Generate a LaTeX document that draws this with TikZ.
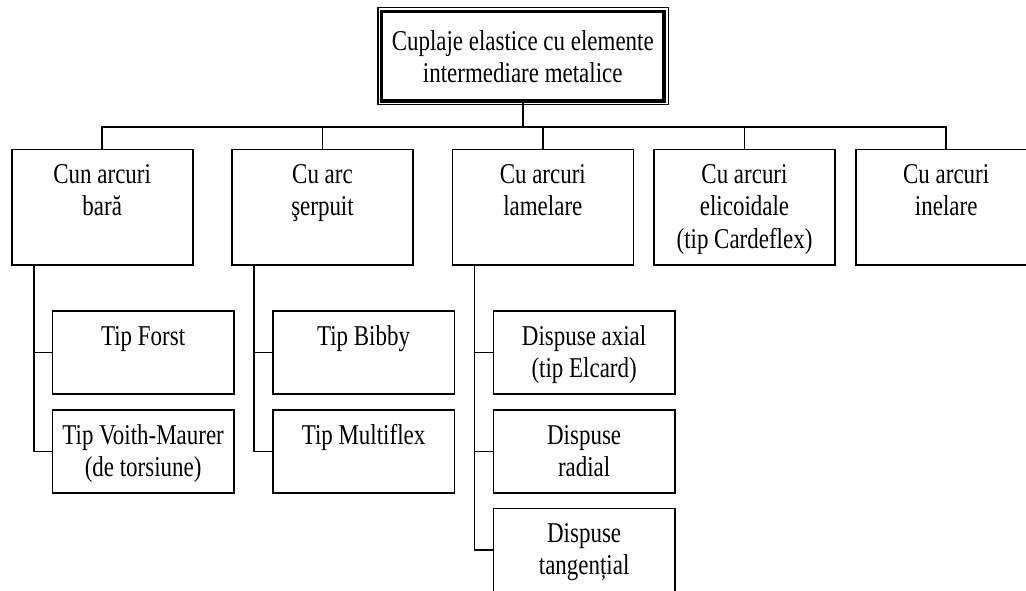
\documentclass[tikz,border=0pt]{standalone}
\usepackage{fontspec}
\setmainfont{Liberation Serif}[FakeStretch=0.8]
\begin{document}
\begin{tikzpicture}[x=1pt,y=-1pt,
  line width=1.6pt,
  every node/.style={outer sep=0pt},
  headbox/.style={draw, rectangle, line width=3.4pt, minimum width=282.1pt, minimum height=89.3pt, inner sep=0pt},
  lvlbox/.style={draw, rectangle, minimum width=181pt, minimum height=115.7pt, inner sep=0pt},
  subbox/.style={draw, rectangle, minimum width=181.7pt, minimum height=83pt, inner sep=0pt},
  lbl/.style={anchor=north, inner sep=0pt, align=center, font=\fontsize{28.7pt}{32.5pt}\selectfont}
]
\useasboundingbox (0,0) rectangle (1026,590);
\fill[white] (0,0) rectangle (1026,590);
\clip (0,0) rectangle (1026,590);

% head box with thin outer frame
\node[headbox] (top) at (522.75,56.35) {};
\draw ([shift={(-3.9,-4.4)}]top.north west) rectangle ([shift={(4.5,3.3)}]top.south east);
\node[lbl] (toptxt) at ([shift={(0,15.55)}]top.north) {\strut Cuplaje elastice cu elemente\\intermediare metalice};

% first level
\node[lvlbox] (b1) at (102.2,207.15) {};
\node[lvlbox] (b2) at (322.5,207.15) {};
\node[lvlbox] (b3) at (542.8,207.15) {};
\node[lvlbox] (b4) at (744.5,207.15) {};
\node[lvlbox] (b5) at (946.2,207.15) {};
\node[lbl] (t1) at ([shift={(0,11.25)}]b1.north) {\strut Cun arcuri\\bară};
\node[lbl] (t2) at ([shift={(0,11.25)}]b2.north) {\strut Cu arc\\şerpuit};
\node[lbl] (t3) at ([shift={(0,11.25)}]b3.north) {\strut Cu arcuri\\lamelare};
\node[lbl] (t4) at ([shift={(0,11.25)}]b4.north) {\strut Cu arcuri\\elicoidale\\(tip Cardeflex)};
\node[lbl] (t5) at ([shift={(0,11.25)}]b5.north) {\strut Cu arcuri\\inelare};

% second level
\node[subbox] (c11) at (143.15,352.5) {};
\node[subbox] (c12) at (143.15,451.6) {};
\node[subbox] (c21) at (363.55,352.5) {};
\node[subbox] (c22) at (363.55,451.6) {};
\node[subbox] (c31) at (584.15,352.5) {};
\node[subbox] (c32) at (584.15,451.6) {};
\node[subbox] (c33) at (584.15,549.8) {};
\node[lbl] (u11) at ([shift={(0,11.25)}]c11.north) {\strut Tip Forst};
\node[lbl] (u12) at ([shift={(0,11.25)}]c12.north) {\strut Tip Voith-Maurer\\(de torsiune)};
\node[lbl] (u21) at ([shift={(0,11.25)}]c21.north) {\strut Tip Bibby};
\node[lbl] (u22) at ([shift={(0,11.25)}]c22.north) {\strut Tip Multiflex};
\node[lbl] (u31) at ([shift={(0,11.25)}]c31.north) {\strut Dispuse axial\\(tip Elcard)};
\node[lbl] (u32) at ([shift={(0,11.25)}]c32.north) {\strut Dispuse\\radial};
\node[lbl] (u33) at ([shift={(0,11.25)}]c33.north) {\strut Dispuse\\tangențial};

% distribution bus under the head box
\coordinate (bus) at (0,126.7);
\draw (top.south) -- (top.south |- bus);
\draw (b1.north) -- (b1.north |- bus) -- (b5.north |- bus) -- (b5.north);
\foreach \b in {b2,b3,b4} \draw (\b.north) -- (\b.north |- bus);

% spines to the sub-boxes
\coordinate (s1) at ([shift={(22,0)}]b1.south west);
\coordinate (s2) at ([shift={(22,0)}]b2.south west);
\coordinate (s3) at ([shift={(22,0)}]b3.south west);
\draw (s1) |- (c12.west);
\draw (c11.west) -- (c11.west -| s1);
\draw (s2) |- (c22.west);
\draw (c21.west) -- (c21.west -| s2);
\draw (s3) |- (c33.west);
\draw (c31.west) -- (c31.west -| s3);
\draw (c32.west) -- (c32.west -| s3);
\end{tikzpicture}
\end{document}
